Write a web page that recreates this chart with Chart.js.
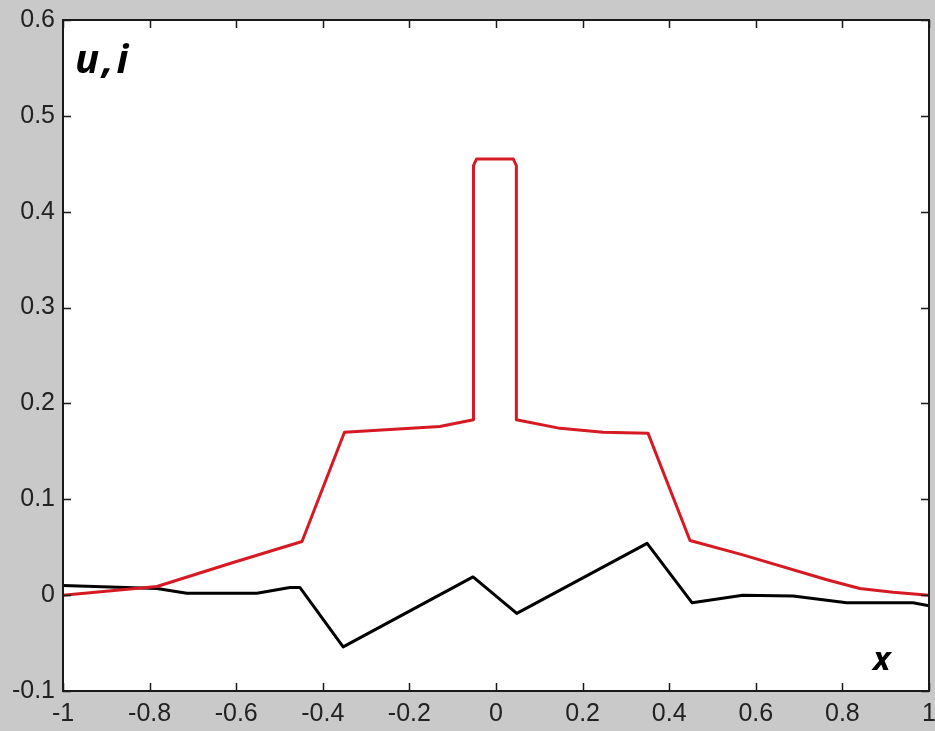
<!DOCTYPE html>
<html>
<head>
<meta charset="utf-8">
<script src="https://cdn.jsdelivr.net/npm/chart.js@4.4.1/dist/chart.umd.min.js"></script>
<style>
  html, body { margin: 0; padding: 0; background: #c9c9c9; }
  #wrap { position: relative; width: 935px; height: 731px; overflow: hidden; }
  #plot { position: absolute; left: 0; top: 0; }
  .lbl {
    position: absolute;
    font-family: "Open Sans", "DejaVu Sans", sans-serif;
    font-weight: 700;
    font-style: italic;
    color: #000;
    line-height: 1;
  }
  #lblU { left: 75px; top: 38px; font-size: 40px; letter-spacing: 3px; }
  #lblX { left: 873px; top: 641px; font-size: 33px; }
</style>
</head>
<body>
<div id="wrap">
  <canvas id="plot" width="935" height="731"></canvas>
  <div class="lbl" id="lblU">u,i</div>
  <div class="lbl" id="lblX">x</div>
</div>
<script>
// ── Data ─────────────────────────────────────────────────────────────────────

const X_TICKS = [-1, -0.8, -0.6, -0.4, -0.2, 0, 0.2, 0.4, 0.6, 0.8, 1];
const Y_TICKS = [-0.1, 0, 0.1, 0.2, 0.3, 0.4, 0.5, 0.6];

// red curve (i)
const redX = [-1, -0.783, -0.607, -0.448, -0.35, -0.13, -0.052, -0.052, -0.045, 0.04, 0.047, 0.047,
              0.148, 0.247, 0.351, 0.448, 0.57, 0.764, 0.84, 0.917, 1];
const redY = [0.0, 0.009, 0.034, 0.056, 0.17, 0.176, 0.183, 0.448, 0.455, 0.455, 0.448, 0.183,
              0.174, 0.170, 0.169, 0.057, 0.042, 0.016, 0.007, 0.003, 0.0];

// black curve (u)
const blackX = [-1, -0.783, -0.714, -0.552, -0.476, -0.453, -0.353, -0.053, 0.048, 0.349, 0.453,
                0.57, 0.686, 0.81, 0.963, 1];
const blackY = [0.010, 0.007, 0.002, 0.002, 0.008, 0.008, -0.054, 0.019, -0.019, 0.054, -0.008,
                0.0, -0.001, -0.008, -0.008, -0.011];

// ── Helpers ──────────────────────────────────────────────────────────────────

const toPoints = (xs, ys) => xs.map((x, i) => ({ x, y: ys[i] }));
const fmtTick = v => {
  const r = Math.round(v * 10) / 10;
  return r === 0 ? '0' : String(r);
};

const TICK_FONT = { family: '"Liberation Sans", Arial, sans-serif', size: 25 };
const TICK_LEN = 8;

// white plot area + matlab style box with inward ticks
const boxPlugin = {
  id: 'box',
  beforeDraw(chart) {
    const { ctx, chartArea: a } = chart;
    ctx.save();
    ctx.fillStyle = '#ffffff';
    ctx.fillRect(a.left, a.top, a.right - a.left, a.bottom - a.top);
    ctx.restore();
  },
  afterDraw(chart) {
    const { ctx, chartArea: a, scales } = chart;
    ctx.save();
    ctx.strokeStyle = '#1a1a1a';
    ctx.lineWidth = 1.5;
    ctx.beginPath();
    X_TICKS.forEach(v => {
      const px = Math.round(scales.x.getPixelForValue(v)) + 0.5;
      ctx.moveTo(px, a.bottom); ctx.lineTo(px, a.bottom - TICK_LEN);
      ctx.moveTo(px, a.top);    ctx.lineTo(px, a.top + TICK_LEN);
    });
    Y_TICKS.forEach(v => {
      const py = Math.round(scales.y.getPixelForValue(v)) + 0.5;
      ctx.moveTo(a.left, py);  ctx.lineTo(a.left + TICK_LEN, py);
      ctx.moveTo(a.right, py); ctx.lineTo(a.right - TICK_LEN, py);
    });
    ctx.stroke();
    ctx.lineWidth = 2;
    ctx.strokeRect(a.left, a.top, a.right - a.left, a.bottom - a.top);
    ctx.restore();
  },
};

// ── Chart ────────────────────────────────────────────────────────────────────

new Chart(document.getElementById('plot').getContext('2d'), {
  type: 'scatter',
  data: {
    datasets: [
      {
        label: 'i',
        data: toPoints(redX, redY),
        showLine: true,
        borderColor: '#d61a24',
        borderWidth: 3,
        pointRadius: 0,
        tension: 0,
        borderJoinStyle: 'round',
      },
      {
        label: 'u',
        data: toPoints(blackX, blackY),
        showLine: true,
        borderColor: '#000000',
        borderWidth: 3,
        pointRadius: 0,
        tension: 0,
        borderJoinStyle: 'round',
      },
    ],
  },
  options: {
    responsive: false,
    animation: false,
    devicePixelRatio: 1,
    layout: { padding: { top: 20, right: 6, left: 0, bottom: 0 } },
    plugins: {
      legend: { display: false },
      tooltip: { enabled: false },
    },
    scales: {
      x: {
        type: 'linear',
        min: -1,
        max: 1,
        afterBuildTicks: s => { s.ticks = X_TICKS.map(v => ({ value: v })); },
        afterFit: s => { s.height = 40; s.paddingLeft = 0; s.paddingRight = 0; },
        ticks: {
          font: TICK_FONT,
          color: '#222',
          padding: 8,
          maxRotation: 0,
          autoSkip: false,
          callback: fmtTick,
        },
        grid: { display: false, drawTicks: false },
        border: { display: false },
      },
      y: {
        type: 'linear',
        min: -0.1,
        max: 0.6,
        afterBuildTicks: s => { s.ticks = Y_TICKS.map(v => ({ value: v })); },
        afterFit: s => { s.width = 63; s.paddingTop = 0; s.paddingBottom = 0; },
        ticks: {
          font: TICK_FONT,
          color: '#222',
          padding: 8,
          autoSkip: false,
          callback: fmtTick,
        },
        grid: { display: false, drawTicks: false },
        border: { display: false },
      },
    },
  },
  plugins: [boxPlugin],
});
</script>
</body>
</html>
